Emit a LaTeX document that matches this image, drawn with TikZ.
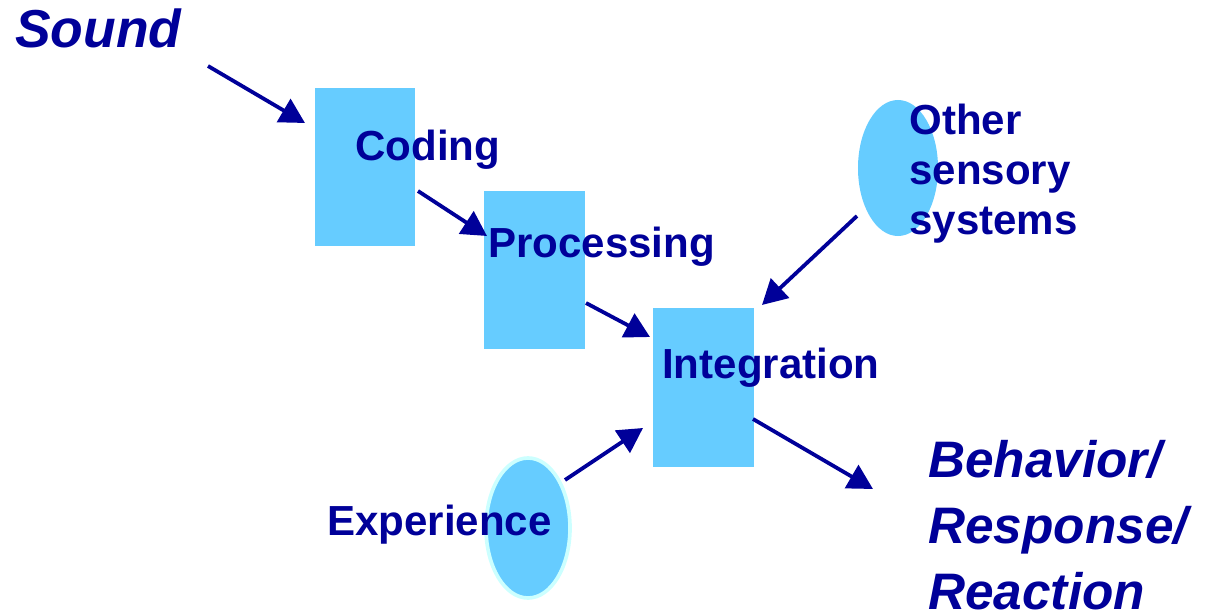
\documentclass[tikz,border=0pt]{standalone}
\usepackage{fontspec}
\setmainfont{Liberation Sans}
\usetikzlibrary{arrows.meta,shapes.geometric}
\definecolor{navy}{HTML}{000099}
\definecolor{sky}{HTML}{66CCFF}
\definecolor{ice}{HTML}{CCFFFF}
\begin{document}
\begin{tikzpicture}[x=0.025cm,y=-0.025cm,line cap=butt,line join=miter,
		>={Triangle[length=0.62cm,width=0.66cm]}]
		\tikzset{stage/.style={fill=sky,draw=none,minimum width=2.5cm,minimum height=3.95cm,inner sep=0pt},
			blob/.style={ellipse,fill=sky,inner sep=0pt},
			lbl/.style={text=navy,inner sep=0pt,anchor=base west,font=\fontsize{29.9}{35.6}\selectfont\bfseries,align=left},
			big/.style={lbl,font=\fontsize{36.5}{47}\selectfont\bfseries\itshape},
			flow/.style={->,navy,line width=2.7pt}}
		\useasboundingbox (0,0) rectangle (1205,610);
		%--------- Khối
		\node[stage] (coding) at (365,167) {};
		\node[stage] (processing) at (534.5,270) {};
		\node[stage] (integration) at (703.5,387.5) {};
		\node[blob,minimum width=2cm,minimum height=3.4cm] (other) at (898,168) {};
		\node[blob,draw=ice,line width=2.6pt,minimum width=2.1cm,minimum height=3.5cm] (experience) at (528,528) {};
		%--------- Chữ
		\node[big,font=\fontsize{38}{47}\selectfont\bfseries\itshape] (sound) at (15,48) {Sound};
		\node[lbl] (codingtext) at (355,161) {Coding};
		\node[lbl] (processingtext) at (488,258) {Processing};
		\node[lbl] (integrationtext) at (662,378) {Integration};
		\node[lbl] (experiencetext) at (327,535) {Experience};
		\node[lbl,anchor=north west] (othertext) at (909,104) {Other\\sensory\\systems};
		\node[big,anchor=north west] (behavior) at (928,440) {Behavior/\\Response/\\Reaction};
		%--------- Mũi tên
		\coordinate (s1) at (208,66);   \coordinate (s2) at (305,123);
		\coordinate (c1) at (418,191);  \coordinate (c2) at (487,236);
		\coordinate (p1) at (586,303);  \coordinate (p2) at (650,337);
		\coordinate (o1) at (857,216);  \coordinate (o2) at (762,305);
		\coordinate (e1) at (565,480);  \coordinate (e2) at (643,428);
		\coordinate (i1) at (753,419);  \coordinate (i2) at (873,489);
		\draw[flow] (s1) -- (s2);
		\draw[flow] (c1) -- (c2);
		\draw[flow] (p1) -- (p2);
		\draw[flow] (o1) -- (o2);
		\draw[flow] (e1) -- (e2);
		\draw[flow] (i1) -- (i2);
	\end{tikzpicture}
\end{document}
